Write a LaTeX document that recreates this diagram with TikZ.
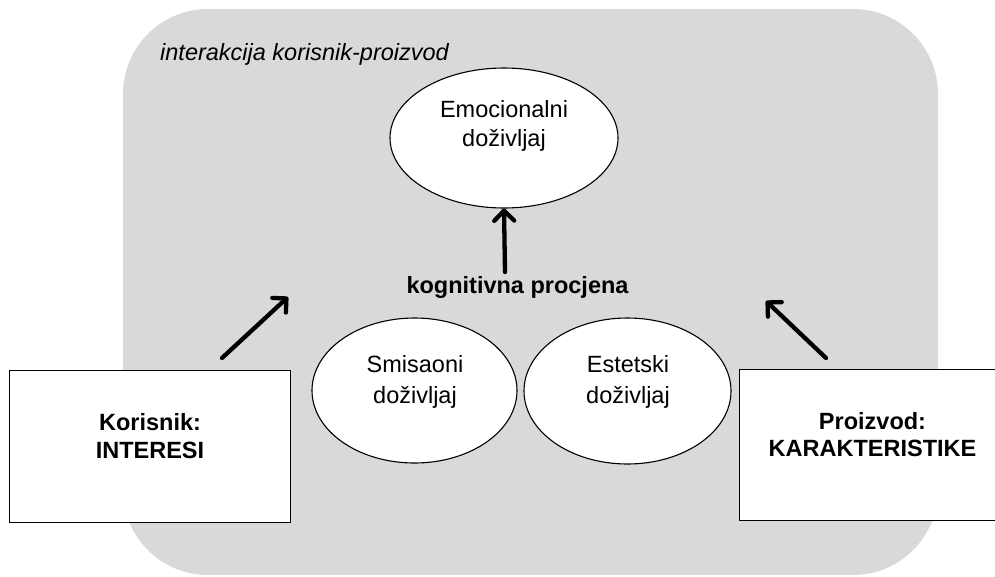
\documentclass[tikz,border=0pt]{standalone}
\usepackage{fontspec}
\setmainfont{Liberation Sans}
\usetikzlibrary{arrows.meta,shapes.geometric}
\definecolor{panelgray}{HTML}{D9D9D9}
\begin{document}
\begin{tikzpicture}[x=1pt,y=-1pt,
  ell/.style={ellipse, draw=black, line width=1.1pt, fill=white, inner sep=0pt},
  boxnode/.style={rectangle, draw=black, line width=1.4pt, fill=white, inner sep=0pt, anchor=north west},
  txt/.style={font=\fontsize{23.5}{31}\selectfont, align=center, anchor=base, inner sep=0pt},
  btxt/.style={font=\fontsize{23.5}{27.5}\selectfont\bfseries, align=center, anchor=base, inner sep=0pt},
  bigarrow/.style={line width=4.3pt, line cap=round, -{Straight Barb[length=10pt,width=20pt,line cap=round,line join=round]}}
]
\useasboundingbox (0,0) rectangle (995,576);
% panel
\fill[panelgray, rounded corners=85pt] (123,9) rectangle (938,575);
\node[font=\fontsize{23.5}{28}\selectfont\itshape, anchor=base west, inner sep=0pt] (label) at (160,60) {interakcija korisnik-proizvod};

% ellipses
\node[ell, minimum width=228pt, minimum height=140pt] (emo) at (504,138) {};
\node[ell, minimum width=205pt, minimum height=145pt] (smi) at (414.5,390.5) {};
\node[ell, minimum width=207pt, minimum height=146pt] (est) at (627.5,391) {};

\node[txt, font=\fontsize{23.5}{29}\selectfont] (emotxt) at (504,146.7) {Emocionalni\\doživljaj};
\node[txt] (smitxt) at (415,403) {Smisaoni\\doživljaj};
\node[txt] (esttxt) at (628,403.3) {Estetski\\doživljaj};

% boxes
\node[boxnode, minimum width=281pt, minimum height=152pt] (kor) at (9,370) {};
\node[boxnode, minimum width=270pt, minimum height=151pt] (pro) at (739,369) {};
\node[btxt] (kortxt) at (150,458.3) {Korisnik:\\INTERESI};
\node[btxt] (protxt) at (872.5,456.7) {Proizvod:\\KARAKTERISTIKE};

% central label
\node[font=\fontsize{23.5}{28}\selectfont\bfseries, anchor=base, inner sep=0pt] (kogn) at (517.5,293) {kognitivna procjena};

% arrows
\coordinate (upfrom) at (505,272);
\coordinate (lfrom) at (222,358);
\coordinate (lto) at (288,297);
\coordinate (rfrom) at (826,358);
\coordinate (rto) at (766,301);
\draw[bigarrow] (upfrom) -- (emo.south);
\draw[bigarrow] (lfrom) -- (lto);
\draw[bigarrow] (rfrom) -- (rto);
\end{tikzpicture}
\end{document}
